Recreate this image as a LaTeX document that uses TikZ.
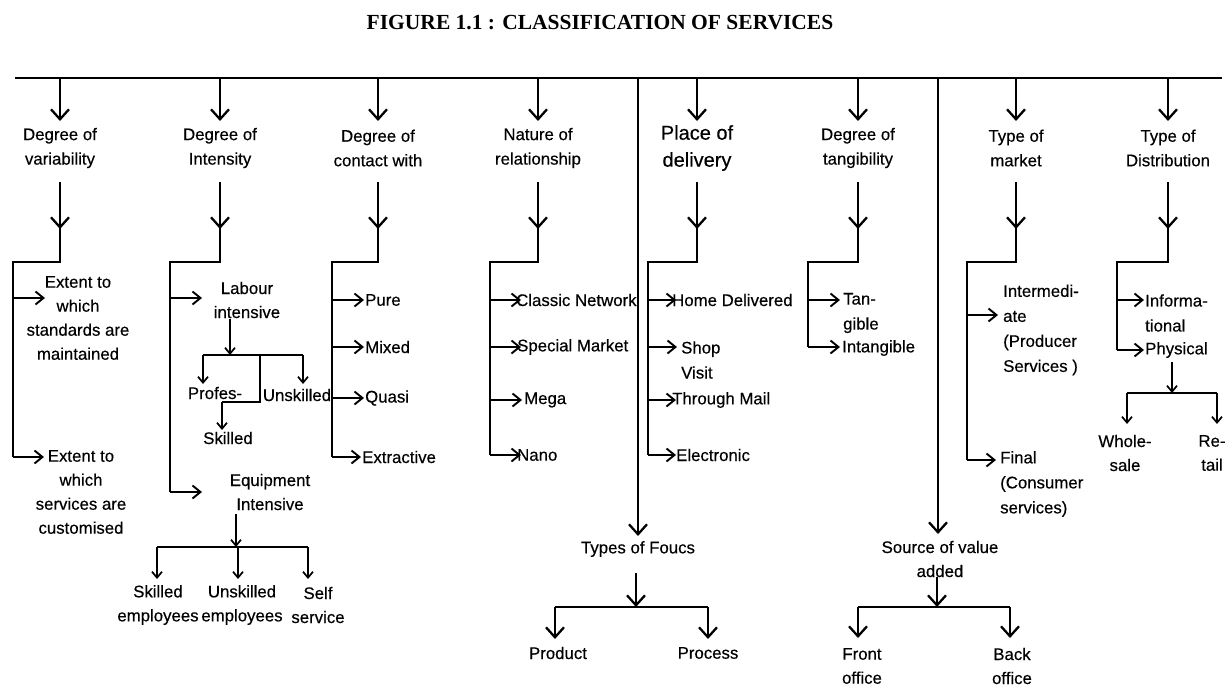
\documentclass[tikz,border=0pt]{standalone}
\usepackage{fontspec}
\setmainfont[FakeBold=0.35]{Liberation Sans}
\newfontfamily\titlefont{Liberation Serif}
\usetikzlibrary{arrows.meta}
\begin{document}
\begin{tikzpicture}[x=1pt,y=-1pt,
  ln/.style={line width=2.3pt},
  tln/.style={line width=1.7pt},
  arr/.style={line width=2.3pt,-{Straight Barb[length=10pt,width=18pt]}},
  sarr/.style={line width=1.9pt,-{Straight Barb[length=8pt,width=13pt]}},
  tarr/.style={line width=1.7pt,-{Straight Barb[length=6pt,width=10pt]}},
  cat/.style={font=\fontsize{16.8}{24.5}\selectfont, align=center, inner sep=0pt},
  bigcat/.style={font=\fontsize{20}{27}\selectfont, align=center, inner sep=0pt},
  ctxt/.style={font=\fontsize{16.8}{24}\selectfont, align=center, inner sep=0pt},
  ltxt/.style={font=\fontsize{16.8}{25}\selectfont, align=left, inner sep=0pt, anchor=west},
]
\useasboundingbox[fill=white] (0,0) rectangle (1227,688);

% title
\node[font=\titlefont\bfseries\fontsize{21.5}{24}\selectfont, inner sep=0pt] (title) at (600,23) {FIGURE 1.1 : CLASSIFICATION OF SERVICES};

% top bar
\coordinate (L) at (15,78);
\coordinate (R) at (1222,78);
\draw[ln] (L) -- (R);

% categories
\node[cat] (c1) at (60,148) {Degree of\\variability};
\node[cat] (c2) at (220,148) {Degree of\\Intensity};
\node[cat] (c3) at (378,148) {Degree of\\contact with};
\node[cat] (c4) at (538,148) {Nature of\\relationship};
\node[bigcat] (c5) at (697,148) {Place of\\delivery};
\node[cat] (c6) at (858,148) {Degree of\\tangibility};
\node[cat] (c7) at (1016,148) {Type of\\market};
\node[cat] (c8) at (1168,148) {Type of\\Distribution};

\foreach \c in {c1,c2,c3,c4,c5,c6,c7,c8}{
  \draw[arr] (\c |- L) -- ++(0,43);
  \coordinate (\c b) at ([yshift=-34pt]\c.center);
}
% second arrows and trunks
\foreach \c/\tx/\ty in {c1/13/457, c2/170/492, c3/332/457, c4/490/455, c5/648/455, c6/808/347, c7/967/460, c8/1117/350}{
  \draw[ln] (\c b) -- ([yshift=-80pt]\c b) -| (\tx,\ty);
  \draw[arr] (\c b) -- ++(0,47);
}

% ---- column 1
\node[ctxt] (n11) at (78,318) {Extent to\\which\\standards are\\maintained};
\node[ctxt] (n12) at (81,492) {Extent to\\which\\services are\\customised};
\draw[sarr] (13,298) -- (45,298);
\draw[sarr] (13,457) -- (44,457);

% ---- column 2
\node[ctxt] (lab) at (247,300) {Labour\\intensive};
\draw[sarr] (170,298) -- (202,298);
\coordinate (labj) at (230,355);
\draw[tarr] (labj |- lab.south) ++(0,1) -- (labj);
\draw[tln] (203,355) -- (303,355);
\node[ctxt] (prof) at (215,393) {Profes-};
\node[ctxt] (unsk) at (297,395) {Unskilled};
\node[ctxt] (skil) at (228,438) {Skilled};
\draw[tarr] (203,355) -- (203,384);
\draw[tarr] (303,355) -- (303,384);
\draw[tln] (260,355) -- (260,402) -- (222,402);
\draw[tarr] (222,402) -- (222,430);

\node[ctxt] (eq) at (270,492) {Equipment\\Intensive};
\draw[sarr] (170,492) -- (202,492);
\draw[tarr] (236,514) -- (236,547);
\draw[tln] (157,547) -- (308,547);
\node[ctxt] (e1) at (158,605) {Skilled\\employees};
\node[ctxt] (e2) at (242,605) {Unskilled\\employees};
\node[ctxt] (e3) at (318,605) {Self\\service};
\draw[tarr] (157,547) -- (157,579);
\draw[tarr] (238,547) -- (238,579);
\draw[tarr] (308,547) -- (308,579);

% ---- column 3
\node[ltxt] (p31) at (365,300) {Pure};
\node[ltxt] (p32) at (365,347) {Mixed};
\node[ltxt] (p33) at (365,398) {Quasi};
\node[ltxt] (p34) at (362,457) {Extractive};
\foreach \n in {p31,p32,p33,p34}{
  \draw[sarr] (332,0 |- \n.west) -- ([xshift=-1pt]\n.west);
}

% ---- column 4
\node[ltxt] (p41) at (516,300) {Classic Network};
\node[ltxt] (p42) at (517,347) {Special Market};
\node[ltxt] (p43) at (524,400) {Mega};
\node[ltxt] (p44) at (517,455) {Nano};
\draw[sarr] (490,300) -- (521,300);
\draw[sarr] (490,347) -- (521,347);
\draw[sarr] (490,400) -- (522,400);
\draw[sarr] (490,455) -- (521,455);

% ---- long line: types of focus
\coordinate (f0) at (638,78);
\node[ctxt] (foc) at (638,549) {Types of Foucs};
\draw[arr] (f0) -- (638,536);
\coordinate (fj) at (636,607);
\draw[arr] (636,573) -- (fj);
\draw[ln] (555,607) -- (708,607);
\node[ctxt] (prod) at (558,653) {Product};
\node[ctxt] (proc) at (708,653) {Process};
\draw[arr] (555,607) -- (555,639);
\draw[arr] (708,607) -- (708,639);

% ---- column 5
\node[ltxt] (p51) at (672,300) {Home Delivered};
\node[ltxt] (p52) at (681,360) {Shop\\Visit};
\node[ltxt] (p53) at (672,400) {Through Mail};
\node[ltxt] (p54) at (676,455) {Electronic};
\draw[sarr] (648,300) -- (676,300);
\draw[sarr] (648,347) -- (677,347);
\draw[sarr] (648,400) -- (676,400);
\draw[sarr] (648,455) -- (676,455);

% ---- column 6
\node[ltxt] (p61) at (843,313) {Tan-\\gible};
\node[ltxt] (p62) at (842,348) {Intangible};
\draw[sarr] (808,300) -- (840,300);
\draw[sarr] (808,347) -- (840,347);

% ---- long line: source of value added
\coordinate (s0) at (938,78);
\node[ctxt] (src) at (940,559) {Source of value\\added};
\draw[arr] (s0) -- (938,534);
\coordinate (sj) at (937,607);
\draw[arr] (937,577) -- (sj);
\draw[ln] (858,607) -- (1010,607);
\node[ctxt] (fr) at (862,666) {Front\\office};
\node[ctxt] (bk) at (1012,666) {Back\\office};
\draw[arr] (858,607) -- (858,638);
\draw[arr] (1010,607) -- (1010,638);

% ---- column 7
\node[ltxt] (p71) at (1003,330) {Intermedi-\\ate\\(Producer\\Services )};
\node[ltxt] (p72) at (1000,484) {Final\\(Consumer\\services)};
\draw[sarr] (967,315) -- (998,315);
\draw[sarr] (967,460) -- (996,460);

% ---- column 8
\node[ltxt] (p81) at (1145,313) {Informa-\\tional};
\node[ltxt] (p82) at (1145,350) {Physical};
\draw[sarr] (1117,300) -- (1144,300);
\draw[sarr] (1117,350) -- (1144,350);
\draw[tarr] (1172,362) -- (1172,393);
\draw[tln] (1127,393) -- (1217,393);
\node[ctxt] (ws) at (1125,453) {Whole-\\sale};
\node[ctxt] (rt) at (1212,453) {Re-\\tail};
\draw[tarr] (1127,393) -- (1127,424);
\draw[tarr] (1217,393) -- (1217,424);
\end{tikzpicture}
\end{document}
